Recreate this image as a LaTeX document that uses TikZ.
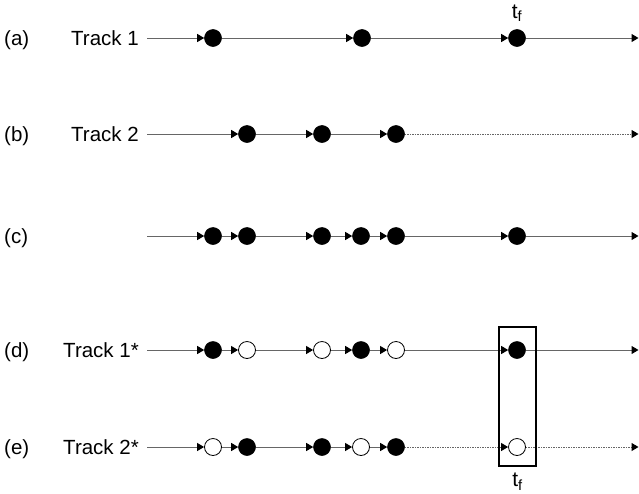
\documentclass[tikz,border=0pt]{standalone}
\usepackage{fontspec}
\setmainfont{Liberation Sans}
\usetikzlibrary{arrows.meta}
\begin{document}
\begin{tikzpicture}[x=1pt,y=-1pt,
  dotf/.style={circle,fill=black,draw=black,line width=0.6pt,inner sep=0pt,minimum size=17pt},
  doto/.style={circle,fill=white,draw=black,line width=0.8pt,inner sep=0pt,minimum size=17pt},
  seg/.style={draw=black!60,line width=1pt,-{Triangle[length=7pt,width=8pt,black]}},
  dseg/.style={seg,dash pattern=on 1.5pt off 1pt},
  rowlab/.style={font=\fontsize{20.5}{23}\selectfont,anchor=west,inner sep=0pt},
  trklab/.style={font=\fontsize{20.5}{23}\selectfont,anchor=east,inner sep=0pt},
  tflab/.style={font=\fontsize{21}{23}\selectfont,inner sep=0pt},
  tbox/.style={draw=black,line width=1.8pt,inner sep=0pt,minimum width=37pt,minimum height=139pt}]
\useasboundingbox (0,0) rectangle (639,493);

% row labels
\node[rowlab] (la) at (4,40) {(a)};
\node[rowlab] (lb) at (4,136) {(b)};
\node[rowlab] (lc) at (4,238) {(c)};
\node[rowlab] (ld) at (4,352) {(d)};
\node[rowlab] (le) at (4,449) {(e)};
\node[trklab] (ta) at (139,38) {Track 1};
\node[trklab] (tb) at (139,134) {Track 2};
\node[trklab] (td) at (139,350) {Track 1*};
\node[trklab] (te) at (139,447) {Track 2*};

% (a)
\coordinate (a0) at (147,38);
\node[dotf] (a1) at (213,38) {};
\node[dotf] (a2) at (362,38) {};
\node[dotf] (a3) at (517,38) {};
\coordinate (a4) at (638.5,38);
\draw[seg] (a0) -- (a1);
\draw[seg] (a1) -- (a2);
\draw[seg] (a2) -- (a3);
\draw[seg] (a3) -- (a4);
\node[tflab] (tfa) at (517,13) {t\textsubscript{f}};

% (b)
\coordinate (b0) at (147,134);
\node[dotf] (b1) at (247,134) {};
\node[dotf] (b2) at (322,134) {};
\node[dotf] (b3) at (396,134) {};
\coordinate (b4) at (638.5,134);
\draw[seg] (b0) -- (b1);
\draw[seg] (b1) -- (b2);
\draw[seg] (b2) -- (b3);
\draw[dseg] (b3) -- (b4);

% (c)
\coordinate (c0) at (147,236);
\node[dotf] (c1) at (213,236) {};
\node[dotf] (c2) at (247,236) {};
\node[dotf] (c3) at (322,236) {};
\node[dotf] (c4) at (361,236) {};
\node[dotf] (c5) at (396,236) {};
\node[dotf] (c6) at (517,236) {};
\coordinate (c7) at (638.5,236);
\draw[seg] (c0) -- (c1);
\draw[seg] (c1) -- (c2);
\draw[seg] (c2) -- (c3);
\draw[seg] (c3) -- (c4);
\draw[seg] (c4) -- (c5);
\draw[seg] (c5) -- (c6);
\draw[seg] (c6) -- (c7);

% (d)
\coordinate (d0) at (147,350);
\node[dotf] (d1) at (213,350) {};
\node[doto] (d2) at (247,350) {};
\node[doto] (d3) at (322,350) {};
\node[dotf] (d4) at (361,350) {};
\node[doto] (d5) at (396,350) {};
\node[dotf] (d6) at (517,350) {};
\coordinate (d7) at (638.5,350);
\draw[seg] (d0) -- (d1);
\draw[seg] (d1) -- (d2);
\draw[seg] (d2) -- (d3);
\draw[seg] (d3) -- (d4);
\draw[seg] (d4) -- (d5);
\draw[seg] (d5) -- (d6);
\draw[seg] (d6) -- (d7);

% (e)
\coordinate (e0) at (147,447);
\node[doto] (e1) at (213,447) {};
\node[dotf] (e2) at (247,447) {};
\node[dotf] (e3) at (322,447) {};
\node[doto] (e4) at (361,447) {};
\node[dotf] (e5) at (396,447) {};
\node[doto] (e6) at (517,447) {};
\coordinate (e7) at (638.5,447);
\draw[seg] (e0) -- (e1);
\draw[seg] (e1) -- (e2);
\draw[seg] (e2) -- (e3);
\draw[seg] (e3) -- (e4);
\draw[seg] (e4) -- (e5);
\draw[dseg] (e5) -- (e6);
\draw[dseg] (e6) -- (e7);

% box
\node[tbox] (bx) at (517.5,396.5) {};
\node[tflab,anchor=north] (tfe) at ([yshift=-6pt]bx.south) {t\textsubscript{f}};
\end{tikzpicture}
\end{document}
